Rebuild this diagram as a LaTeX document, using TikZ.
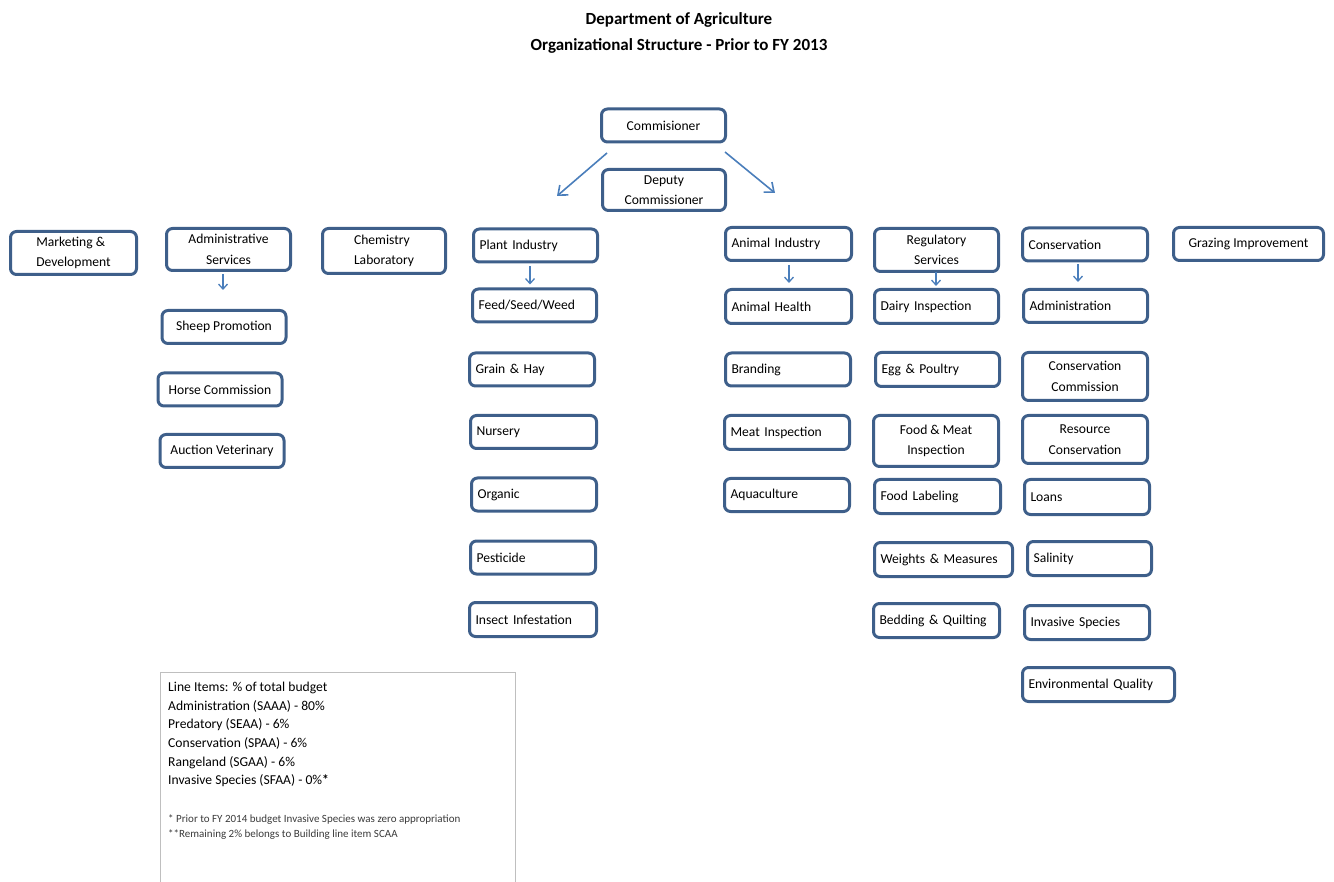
\documentclass[tikz,border=0pt]{standalone}
\usepackage{fontspec}
\setmainfont{Carlito}
\usepackage{tikz}
\usetikzlibrary{arrows.meta}
\definecolor{boxblue}{HTML}{3E5F8A}
\definecolor{arrowblue}{HTML}{4A7EBB}
\definecolor{legendgray}{HTML}{BFBFBF}
\definecolor{notegray}{HTML}{3A3A3A}

\begin{document}
\begin{tikzpicture}[x=1pt, y=-1pt,
  every node/.style={font=\fontsize{13.6}{20.5}\selectfont},
  unit/.style={draw=boxblue, line width=3pt, rounded corners=6pt, fill=white,
    minimum width=124pt, minimum height=33pt, inner xsep=6pt, inner ysep=3pt, align=center},
  unitl/.style={unit, text width=112pt, align=left},
  link/.style={draw=arrowblue, line width=1.3pt, -{Straight Barb[length=5pt, width=9pt]}},
  toplink/.style={draw=arrowblue, line width=1.6pt, -{Straight Barb[length=8pt, width=13pt]}}]
  \useasboundingbox (0,0) rectangle (1334,882);
  \node[font=\fontsize{17}{26}\selectfont\bfseries, align=center] (title) at (679,33)
    {Department of Agriculture\\Organizational Structure - Prior to FY 2013};
  \node[unit] (comm) at (663.5,125.5) {Commisioner};
  \node[unit, minimum width=123pt, minimum height=41pt] (deputy) at (664,190) {Deputy\\Commissioner};
  \coordinate (ltail) at (607,153);
  \coordinate (lhead) at (557,196);
  \coordinate (rtail) at (725,152);
  \coordinate (rhead) at (775,193);
  \draw[toplink] (ltail) -- (lhead);
  \draw[toplink] (rtail) -- (rhead);
  % divisions
  \node[unit, minimum width=126pt, minimum height=43pt, align=left] (market) at (73.5,253) {Marketing \&\\Development};
  \node[unit, minimum height=42pt] (admin) at (228.5,249.5) {Administrative\\Services};
  \node[unit, minimum width=123pt, minimum height=45pt, align=left] (chem) at (384,251) {Chemistry\\Laboratory};
  \node[unitl] (plant) at (535.5,245.5) {Plant Industry};
  \node[unitl, minimum width=126pt, text width=114pt] (animal) at (788.5,244) {Animal Industry};
  \node[unit, minimum height=43pt] (regul) at (936.5,250) {Regulatory\\Services};
  \node[unitl, minimum width=125pt, text width=113pt] (cons) at (1085,244.5) {Conservation};
  \node[unit, minimum width=150pt] (grazing) at (1248.5,244) {Grazing Improvement};
  % administrative services
  \node[unit] (sheep) at (224,327) {Sheep Promotion};
  \node[unit] (horse) at (220,389.5) {Horse Commission};
  \node[unit] (auction) at (222,451) {Auction Veterinary};
  % plant industry
  \node[unitl] (feed) at (534.5,305.5) {Feed/Seed/Weed};
  \node[unitl, minimum width=125pt, text width=113pt] (grain) at (532,369.5) {Grain \& Hay};
  \node[unitl, minimum width=126pt, text width=114pt] (nursery) at (533.5,432) {Nursery};
  \node[unitl, minimum width=125pt, text width=113pt] (organic) at (534,494.5) {Organic};
  \node[unitl, minimum width=125pt, text width=113pt] (pest) at (533,557.5) {Pesticide};
  \node[unitl, minimum width=127pt, text width=115pt, minimum height=34pt] (insect) at (533,619.5) {Insect Infestation};
  % animal industry
  \node[unitl, minimum width=126pt, text width=114pt, minimum height=34pt] (health) at (788.5,306.5) {Animal Health};
  \node[unitl, minimum width=125pt, text width=113pt] (brand) at (788,369.5) {Branding};
  \node[unitl, minimum width=125pt, text width=113pt, minimum height=34pt] (meat) at (787,432.5) {Meat Inspection};
  \node[unitl, minimum width=125pt, text width=113pt] (aqua) at (787,495) {Aquaculture};
  % regulatory services
  \node[unitl, minimum height=34pt] (dairy) at (936.5,306.5) {Dairy Inspection};
  \node[unitl, minimum height=34pt] (egg) at (937.5,369.5) {Egg \& Poultry};
  \node[unit, minimum width=125pt, minimum height=51pt] (foodmeat) at (936,441) {Food \& Meat\\Inspection};
  \node[unitl, minimum width=126pt, text width=114pt, minimum height=34pt] (label) at (937.5,496.5) {Food Labeling};
  \node[unitl, minimum width=138pt, text width=126pt, minimum height=34pt] (weights) at (943.5,559.5) {Weights \& Measures};
  \node[unitl, minimum width=126pt, text width=114pt, minimum height=34pt] (bedding) at (936.5,620.5) {Bedding \& Quilting};
  % conservation
  \node[unitl, minimum width=124pt, minimum height=33pt] (consadmin) at (1085.5,306) {Administration};
  \node[unit, minimum width=125pt, minimum height=48pt] (conscomm) at (1085,376.5) {Conservation\\Commission};
  \node[unit, minimum width=125pt, minimum height=48pt] (resource) at (1085,439.5) {Resource\\Conservation};
  \node[unitl, minimum width=125pt, text width=113pt, minimum height=35pt] (loans) at (1087,497) {Loans};
  \node[unitl, minimum height=34pt] (salinity) at (1089.5,558.5) {Salinity};
  \node[unitl, minimum width=125pt, text width=113pt, minimum height=34pt] (invasive) at (1087,622.5) {Invasive Species};
  \node[unitl, minimum width=152pt, text width=140pt, minimum height=34pt] (envq) at (1098.5,684.5) {Environmental Quality};
  % sub-unit arrows
  \draw[link, shorten <=2pt, shorten >=19pt] ([xshift=-5.5pt]admin.south) -- ([xshift=-1pt]sheep.north);
  \draw[link, shorten <=3pt, shorten >=3pt] ([xshift=-5.5pt]plant.south) -- ([xshift=-4.5pt]feed.north);
  \draw[link, shorten <=3pt, shorten >=5pt] ([xshift=0.5pt]animal.south) -- ([xshift=0.5pt]health.north);
  \draw[link, shorten <=-1pt, shorten >=2pt] ([xshift=-0.5pt]regul.south) -- ([xshift=-0.5pt]dairy.north);
  \draw[link, shorten <=2pt, shorten >=6pt] ([xshift=-7pt]cons.south) -- ([xshift=-7.5pt]consadmin.north);
  % line items
  \draw[legendgray, line width=0.8pt] (160,672) rectangle (515,900);
  \node[anchor=north west, align=left, inner sep=0pt, font=\fontsize{13.6}{18.6}\selectfont] (items) at (168,682)
    {Line Items: \% of total budget\\Administration (SAAA) - 80\%\\Predatory (SEAA) - 6\%\\Conservation (SPAA) - 6\%\\Rangeland (SGAA) - 6\%\\Invasive Species (SFAA) - 0\%\textbf{*}};
  \node[anchor=north west, align=left, inner sep=0pt, text=notegray, font=\fontsize{11}{15}\selectfont] (notes) at (168,814)
    {* Prior to FY 2014 budget Invasive Species was zero appropriation\\**Remaining 2\% belongs to Building line item SCAA};
\end{tikzpicture}
\end{document}
